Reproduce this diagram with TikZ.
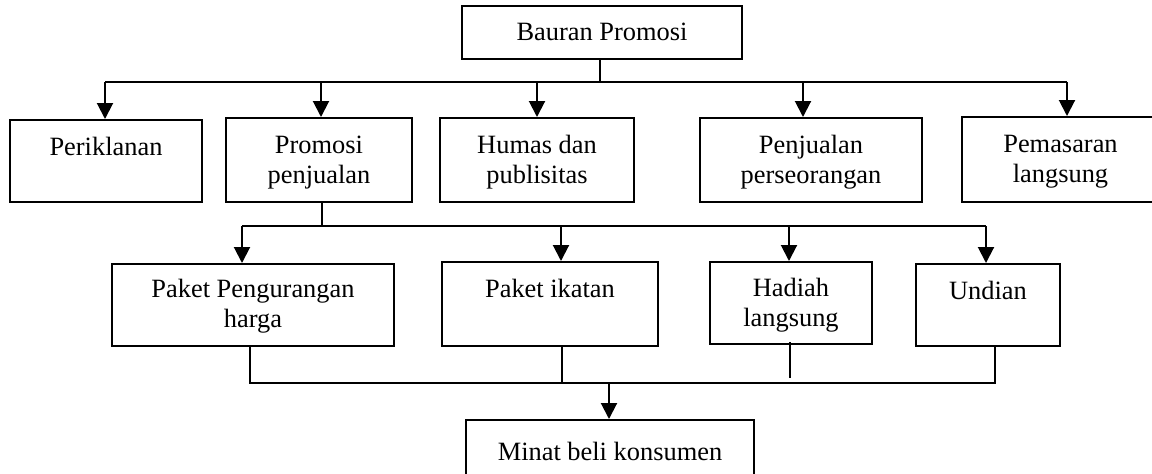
\documentclass[tikz,border=0pt]{standalone}
\usepackage{fontspec}
\setmainfont{Liberation Serif}
\usetikzlibrary{arrows.meta}
\begin{document}
\begin{tikzpicture}[x=0.5pt,y=-0.5pt,
  box/.style={draw,line width=1pt,inner sep=0pt,rectangle},
  txt/.style={anchor=base,align=center,inner sep=0pt,font=\fontsize{13.2}{15}\selectfont},
  ln/.style={line width=1pt},
  arr/.style={line width=1pt,-{Triangle[width=8pt,length=8pt]}}]
\useasboundingbox (0,0) rectangle (1152,473);
\clip (0,0) rectangle (1152,473);
% top
\node[box,minimum width=140pt,minimum height=26.5pt] (top) at (602,32.5) {};
\node[txt] (ttop) at ([yshift=-17.8pt]top.north) {Bauran Promosi};
% row 1
\node[box,minimum width=96pt,minimum height=41pt] (per) at (106,161) {};
\node[box,minimum width=93pt,minimum height=42pt] (pro) at (319,160) {};
\node[box,minimum width=97pt,minimum height=42pt] (hum) at (537,160) {};
\node[box,minimum width=111pt,minimum height=42pt] (pen) at (811,160) {};
\node[box,minimum width=98.5pt,minimum height=42.5pt] (pem) at (1060.5,159.5) {};
\node[txt] (tper) at ([yshift=-18pt]per.north) {Periklanan};
\node[txt] (tpro) at ([yshift=-33pt]pro.north) {Promosi\\penjualan};
\node[txt] (thum) at ([yshift=-33pt]hum.north) {Humas dan\\publisitas};
\node[txt] (tpen) at ([yshift=-33pt]pen.north) {Penjualan\\perseorangan};
\node[txt] (tpem) at ([yshift=-33pt]pem.north) {Pemasaran\\langsung};
% row 2
\node[box,minimum width=141pt,minimum height=41pt] (pph) at (253,305) {};
\node[box,minimum width=108pt,minimum height=42pt] (pik) at (550,304) {};
\node[box,minimum width=81pt,minimum height=41pt] (had) at (791,303) {};
\node[box,minimum width=72pt,minimum height=41pt] (und) at (988,305) {};
\node[txt] (tpph) at ([yshift=-32pt]pph.north) {Paket Pengurangan\\harga};
\node[txt] (tpik) at ([yshift=-18pt]pik.north) {Paket ikatan};
\node[txt] (thad) at ([yshift=-32.5pt]had.north) {Hadiah\\langsung};
\node[txt] (tund) at ([yshift=-18pt]und.north) {Undian};
% bottom
\node[box,minimum width=144pt,minimum height=30pt] (min) at (610,450) {};
\node[txt] (tmin) at ([yshift=-20.8pt]min.north) {Minat beli konsumen};
% connectors level 1
\coordinate (j1) at (600,82);
\coordinate (a1) at (105,82);
\coordinate (a2) at (321,82);
\coordinate (a3) at (537,82);
\coordinate (a4) at (803,82);
\coordinate (a5) at (1067,82);
\draw[ln] (top.south -| j1) -- (j1);
\draw[ln] (a1) -- (a5);
\draw[arr] (a1) -- (a1 |- per.north);
\draw[arr] (a2) -- (a2 |- pro.north);
\draw[arr] (a3) -- (a3 |- hum.north);
\draw[arr] (a4) -- (a4 |- pen.north);
\draw[arr] (a5) -- (a5 |- pem.north);
% connectors level 2
\coordinate (j2) at (322,226);
\coordinate (b1) at (242,226);
\coordinate (b2) at (561,226);
\coordinate (b3) at (789,226);
\coordinate (b4) at (986,226);
\draw[ln] (pro.south -| j2) -- (j2);
\draw[ln] (b1) -- (b4);
\draw[arr] (b1) -- (b1 |- pph.north);
\draw[arr] (b2) -- (b2 |- pik.north);
\draw[arr] (b3) -- (b3 |- had.north);
\draw[arr] (b4) -- (b4 |- und.north);
% connectors level 3
\coordinate (c1) at (250,382.5);
\coordinate (c2) at (562,382.5);
\coordinate (c3) at (790,378);
\coordinate (c4) at (994.5,382.5);
\coordinate (m) at (609,382.5);
\draw[ln] (pph.south -| c1) -- (c1) -- (c4) -- (und.south -| c4);
\draw[ln] (pik.south -| c2) -- (c2);
\draw[ln] ([yshift=1.5pt]had.south -| c3) -- (c3);
\draw[arr] (m) -- (m |- min.north);
\end{tikzpicture}
\end{document}
